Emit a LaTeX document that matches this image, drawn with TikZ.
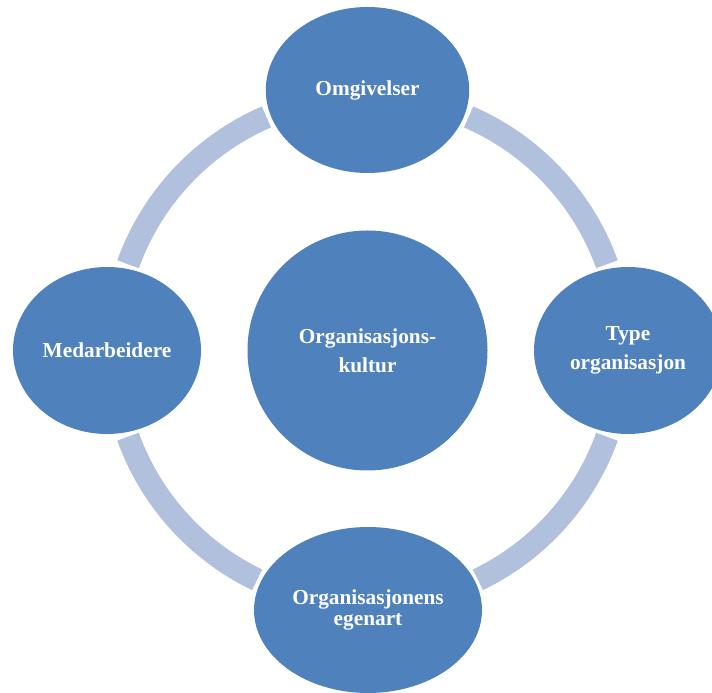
\documentclass[tikz,border=0pt]{standalone}
\usepackage{fontspec}
\setmainfont{Liberation Serif}
\usetikzlibrary{shapes.geometric}
\definecolor{bubble}{RGB}{79,129,189}
\definecolor{ringblue}{RGB}{177,193,221}
\begin{document}
\begin{tikzpicture}[x=1pt,y=1pt,
  bubble/.style={ellipse, fill=bubble, inner sep=0pt, text=white, align=center,
    font=\fontsize{21.3}{28.4}\selectfont\bfseries,
    preaction={draw=white, line width=6pt}},
  ring/.style={draw=ringblue, line width=23pt}]
\clip (0,0) rectangle (712,693);

% central circle
\node[bubble, circle, minimum size=240pt,
      font=\fontsize{21.3}{29.3}\selectfont\bfseries] (kultur) at (367.5,342.5) {Organisasjons-\\kultur};

% ring segments between the outer bubbles
\def\rr{254.5}
\draw[ring] (kultur.center) ++(66.6:\rr) arc[start angle=66.6, end angle=19.8, radius=\rr];
\draw[ring] (kultur.center) ++(-19.8:\rr) arc[start angle=-19.8, end angle=-64.3, radius=\rr];
\draw[ring] (kultur.center) ++(244.3:\rr) arc[start angle=244.3, end angle=199.8, radius=\rr];
\draw[ring] (kultur.center) ++(160.2:\rr) arc[start angle=160.2, end angle=113.4, radius=\rr];

% outer bubbles
\node[bubble, minimum width=203.4pt, minimum height=166pt] (omg) at (367.5,603) {Omgivelser};
\node[bubble, minimum width=188pt, minimum height=167pt] (type) at (628,342.5) {Type\\organisasjon};
\node[bubble, minimum width=228pt, minimum height=166pt,
      font=\fontsize{21.3}{20.6}\selectfont\bfseries] (egen) at (368,83) {Organisasjonens\\egenart};
\node[bubble, minimum width=188pt, minimum height=167pt] (med) at (107,342.5) {Medarbeidere};
\end{tikzpicture}
\end{document}
